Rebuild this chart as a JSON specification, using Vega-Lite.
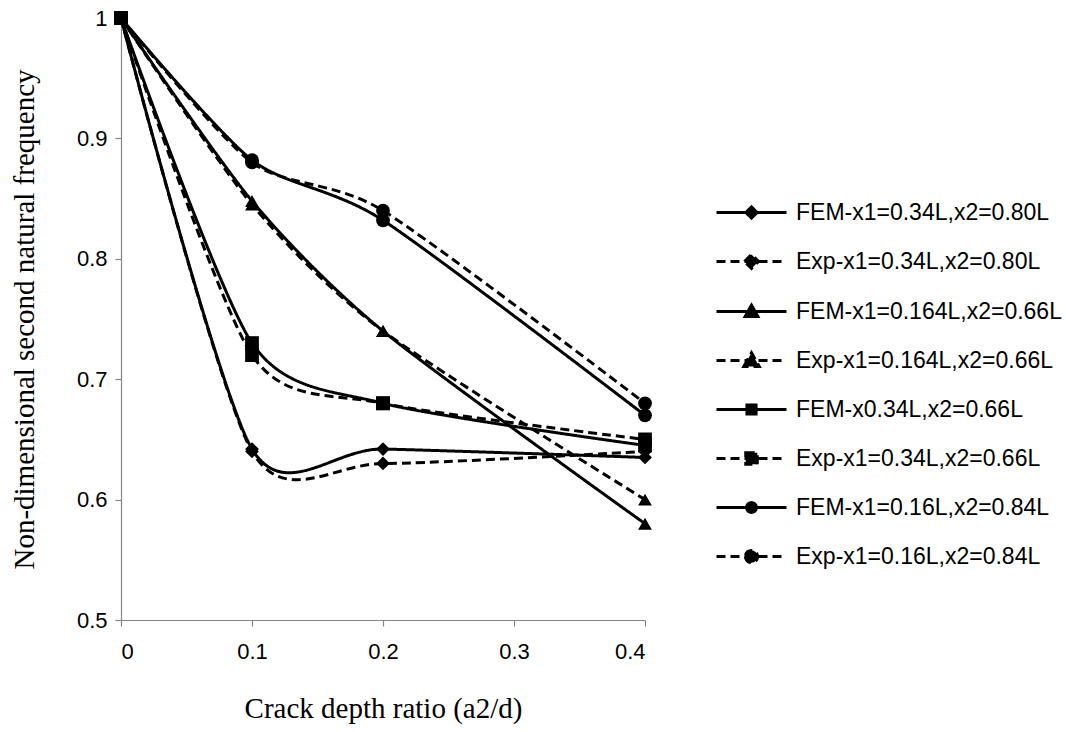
{
  "$schema": "https://vega.github.io/schema/vega-lite/v6.json",
  "width": 524,
  "height": 602,
  "autosize": {"type": "none"},
  "padding": {"left": 121, "top": 18, "right": 421, "bottom": 112},
  "background": "white",
  "config": {
    "view": {"stroke": null},
    "axis": {
      "grid": false,
      "domainColor": "#868686",
      "domainWidth": 1.2,
      "tickColor": "#868686",
      "tickWidth": 1.2,
      "tickSize": 6,
      "labelFont": "Liberation Sans",
      "labelFontSize": 22,
      "labelColor": "#000000",
      "titleFont": "Liberation Serif",
      "titleFontSize": 29,
      "titleFontWeight": "normal",
      "titleColor": "#000000"
    }
  },
  "data": {
    "values": [
      {"series": "FEM-x1=0.34L,x2=0.80L", "x": 0, "y": 1},
      {"series": "FEM-x1=0.34L,x2=0.80L", "x": 0.1, "y": 0.642},
      {"series": "FEM-x1=0.34L,x2=0.80L", "x": 0.2, "y": 0.642},
      {"series": "FEM-x1=0.34L,x2=0.80L", "x": 0.4, "y": 0.635},
      {"series": "Exp-x1=0.34L,x2=0.80L", "x": 0, "y": 1},
      {"series": "Exp-x1=0.34L,x2=0.80L", "x": 0.1, "y": 0.64},
      {"series": "Exp-x1=0.34L,x2=0.80L", "x": 0.2, "y": 0.63},
      {"series": "Exp-x1=0.34L,x2=0.80L", "x": 0.4, "y": 0.64},
      {"series": "FEM-x1=0.164L,x2=0.66L", "x": 0, "y": 1},
      {"series": "FEM-x1=0.164L,x2=0.66L", "x": 0.1, "y": 0.848},
      {"series": "FEM-x1=0.164L,x2=0.66L", "x": 0.2, "y": 0.74},
      {"series": "FEM-x1=0.164L,x2=0.66L", "x": 0.4, "y": 0.58},
      {"series": "Exp-x1=0.164L,x2=0.66L", "x": 0, "y": 1},
      {"series": "Exp-x1=0.164L,x2=0.66L", "x": 0.1, "y": 0.845},
      {"series": "Exp-x1=0.164L,x2=0.66L", "x": 0.2, "y": 0.74},
      {"series": "Exp-x1=0.164L,x2=0.66L", "x": 0.4, "y": 0.6},
      {"series": "FEM-x0.34L,x2=0.66L", "x": 0, "y": 1},
      {"series": "FEM-x0.34L,x2=0.66L", "x": 0.1, "y": 0.73},
      {"series": "FEM-x0.34L,x2=0.66L", "x": 0.2, "y": 0.68},
      {"series": "FEM-x0.34L,x2=0.66L", "x": 0.4, "y": 0.645},
      {"series": "Exp-x1=0.34L,x2=0.66L", "x": 0, "y": 1},
      {"series": "Exp-x1=0.34L,x2=0.66L", "x": 0.1, "y": 0.72},
      {"series": "Exp-x1=0.34L,x2=0.66L", "x": 0.2, "y": 0.68},
      {"series": "Exp-x1=0.34L,x2=0.66L", "x": 0.4, "y": 0.65},
      {"series": "FEM-x1=0.16L,x2=0.84L", "x": 0, "y": 1},
      {"series": "FEM-x1=0.16L,x2=0.84L", "x": 0.1, "y": 0.882},
      {"series": "FEM-x1=0.16L,x2=0.84L", "x": 0.2, "y": 0.832},
      {"series": "FEM-x1=0.16L,x2=0.84L", "x": 0.4, "y": 0.67},
      {"series": "Exp-x1=0.16L,x2=0.84L", "x": 0, "y": 1},
      {"series": "Exp-x1=0.16L,x2=0.84L", "x": 0.1, "y": 0.88},
      {"series": "Exp-x1=0.16L,x2=0.84L", "x": 0.2, "y": 0.84},
      {"series": "Exp-x1=0.16L,x2=0.84L", "x": 0.4, "y": 0.68}
    ]
  },
  "encoding": {
    "x": {
      "field": "x",
      "type": "quantitative",
      "scale": {"domain": [0, 0.4], "nice": false, "zero": false},
      "axis": {
        "values": [0, 0.1, 0.2, 0.3, 0.4],
        "format": ".1~f",
        "labelPadding": 15,
        "title": "Crack depth ratio (a2/d)",
        "titlePadding": 32
      }
    },
    "y": {
      "field": "y",
      "type": "quantitative",
      "scale": {"domain": [0.5, 1], "nice": false, "zero": false},
      "axis": {
        "values": [0.5, 0.6, 0.7, 0.8, 0.9, 1],
        "format": ".1~f",
        "labelPadding": 8,
        "title": "Non-dimensional second natural frequency",
        "titlePadding": 37
      }
    }
  },
  "layer": [
    {
      "mark": {"type": "line", "interpolate": "cardinal", "tension": 0.25, "color": "black", "strokeWidth": 3},
      "encoding": {
        "detail": {"field": "series", "type": "nominal"},
        "strokeDash": {
          "field": "series",
          "type": "nominal",
          "scale": {
            "domain": ["FEM-x1=0.34L,x2=0.80L", "Exp-x1=0.34L,x2=0.80L", "FEM-x1=0.164L,x2=0.66L", "Exp-x1=0.164L,x2=0.66L", "FEM-x0.34L,x2=0.66L", "Exp-x1=0.34L,x2=0.66L", "FEM-x1=0.16L,x2=0.84L", "Exp-x1=0.16L,x2=0.84L"],
            "range": [[1, 0], [9, 5], [1, 0], [9, 5], [1, 0], [9, 5], [1, 0], [9, 5]]
          },
          "legend": null
        }
      }
    },
    {
      "mark": {"type": "point", "filled": true, "color": "black", "opacity": 1, "size": 190},
      "encoding": {
        "shape": {
          "field": "series",
          "type": "nominal",
          "scale": {
            "domain": ["FEM-x1=0.34L,x2=0.80L", "Exp-x1=0.34L,x2=0.80L", "FEM-x1=0.164L,x2=0.66L", "Exp-x1=0.164L,x2=0.66L", "FEM-x0.34L,x2=0.66L", "Exp-x1=0.34L,x2=0.66L", "FEM-x1=0.16L,x2=0.84L", "Exp-x1=0.16L,x2=0.84L"],
            "range": ["diamond", "diamond", "triangle-up", "triangle-up", "square", "square", "circle", "circle"]
          },
          "legend": null
        }
      }
    },
    {
      "transform": [{"filter": "datum.x > 1"}],
      "mark": {"type": "point", "filled": true, "fill": "black", "stroke": "black", "strokeWidth": 3, "opacity": 1},
      "encoding": {
        "shape": {
          "field": "series",
          "type": "nominal",
          "scale": {
            "domain": ["FEM-x1=0.34L,x2=0.80L", "Exp-x1=0.34L,x2=0.80L", "FEM-x1=0.164L,x2=0.66L", "Exp-x1=0.164L,x2=0.66L", "FEM-x0.34L,x2=0.66L", "Exp-x1=0.34L,x2=0.66L", "FEM-x1=0.16L,x2=0.84L", "Exp-x1=0.16L,x2=0.84L"],
            "range": [
              "M-1,0H1M-0.16,0L0,-0.16L0.16,0L0,0.16Z",
              "M-1,0H1M-0.2,0L0,-0.2L0.2,0L0,0.2Z",
              "M-1,0H1M-0.18,0.14L0,-0.18L0.18,0.14Z",
              "M-1,0H1M-0.22,0.17L0,-0.22L0.22,0.17Z",
              "M-1,0H1M-0.13,-0.13H0.13V0.13H-0.13Z",
              "M-1,0H1M-0.165,-0.165H0.165V0.165H-0.165Z",
              "M-1,0H1M-0.14,0A0.14,0.14,0,1,0,0.14,0A0.14,0.14,0,1,0,-0.14,0Z",
              "M-1,0H1M-0.175,0A0.175,0.175,0,1,0,0.175,0A0.175,0.175,0,1,0,-0.175,0Z"
            ]
          },
          "legend": {
            "title": null,
            "orient": "none",
            "legendX": 594,
            "legendY": 158,
            "padding": 0,
            "symbolSize": 4900,
            "symbolStrokeWidth": 3,
            "labelFont": "Liberation Sans",
            "labelFontSize": 23,
            "labelColor": "#000000",
            "labelLimit": 400,
            "labelOffset": 8,
            "rowPadding": 0
          }
        },
        "strokeDash": {
          "field": "series",
          "type": "nominal",
          "scale": {
            "domain": ["FEM-x1=0.34L,x2=0.80L", "Exp-x1=0.34L,x2=0.80L", "FEM-x1=0.164L,x2=0.66L", "Exp-x1=0.164L,x2=0.66L", "FEM-x0.34L,x2=0.66L", "Exp-x1=0.34L,x2=0.66L", "FEM-x1=0.16L,x2=0.84L", "Exp-x1=0.16L,x2=0.84L"],
            "range": [[1, 0], [9, 5], [1, 0], [9, 5], [1, 0], [9, 5], [1, 0], [9, 5]]
          },
          "legend": {
            "title": null,
            "orient": "none",
            "legendX": 594,
            "legendY": 158,
            "padding": 0,
            "symbolSize": 4900,
            "symbolStrokeWidth": 3,
            "labelFont": "Liberation Sans",
            "labelFontSize": 23,
            "labelColor": "#000000",
            "labelLimit": 400,
            "labelOffset": 8,
            "rowPadding": 0
          }
        }
      }
    }
  ],
  "resolve": {"scale": {"shape": "independent", "strokeDash": "independent"}}
}
